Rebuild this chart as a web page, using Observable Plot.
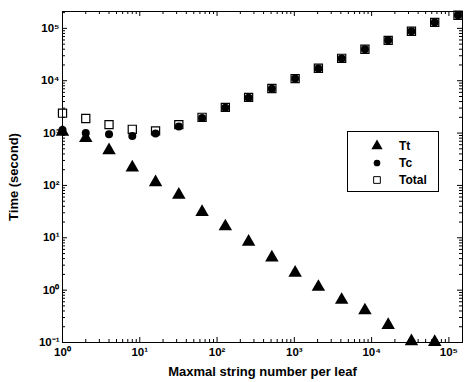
<!DOCTYPE html>
<html><head><meta charset="utf-8">
<script src="https://cdn.jsdelivr.net/npm/d3@7"></script>
<script src="https://cdn.jsdelivr.net/npm/@observablehq/plot@0.6"></script>
<style>
body{margin:0;background:#fff}
#wrap{position:relative;width:470px;height:382px;font-family:"Liberation Sans",Arial,Helvetica,sans-serif}
#legend{position:absolute;left:347px;top:131px;width:92px;height:61px;border:1px solid #000;box-sizing:border-box;background:#fff}
</style>
</head><body><div id="wrap"></div>
<script>
// x: maximal string number per leaf
const leafSize = [1,2,4,8,16,32,64,128,256,512,1024,2048,4096,8192,16384,32768,65536,131072];
// Tt (seconds) — last point (131072) below axis range, not shown
const tt = [1050,800,470,220,115,66,31,16.5,8.4,4.2,2.15,1.15,0.65,0.41,0.215,0.105,0.102];
// Tc (seconds)
const tc = [1150,1000,950,880,980,1330,1950,3050,4750,7000,11000,17200,26700,40000,59000,88000,130000,178000];
// Total (seconds)
const total = [2400,1900,1450,1180,1100,1450,2000,3100,4800,7100,11000,17300,26800,40000,59000,88000,130000,178000];

const seriesNames = ["Tt","Tc","Total"];
const xMajor = [1,10,100,1000,10000,100000];
const yMajor = [0.1,1,10,100,1000,10000,100000];
const xMinor = [], yMinor = [];
for (let e = 0; e <= 5; e++) for (let m = 2; m <= 9; m++) { const v = m * 10 ** e; if (v <= 150000) xMinor.push(v); }
for (let e = -1; e <= 5; e++) for (let m = 2; m <= 9; m++) { const v = m * 10 ** e; if (v <= 210000) yMinor.push(v); }

const sup = {"0":"⁰","1":"¹","2":"²","3":"³","4":"⁴","5":"⁵","-":"⁻"};
const fmt = v => "10" + String(Math.round(Math.log10(v))).split("").map(c => sup[c]).join("");

const ttData = tt.map((v,i) => ({x: leafSize[i], y: v}));
const tcData = tc.map((v,i) => ({x: leafSize[i], y: v}));
const totData = total.map((v,i) => ({x: leafSize[i], y: v}));

const W = 470, H = 382, mL = 62, mR = 8, mT = 11, mB = 40;
const innerH = H - mT - mB, innerW = W - mL - mR;
const font = "'Liberation Sans', Arial, Helvetica, sans-serif";

const chart = Plot.plot({
  width: W, height: H,
  marginLeft: mL, marginRight: mR, marginTop: mT, marginBottom: mB,
  style: {fontFamily: font, background: "#fff", color: "#000"},
  x: {type: "log", domain: [1, 150000]},
  y: {type: "log", domain: [0.1, 210000]},
  marks: [
    Plot.frame({stroke: "#000", strokeWidth: 1}),
    // inward ticks, bottom & top
    Plot.ruleX(xMajor, {x: d => d, insetTop: innerH - 5, stroke: "#000"}),
    Plot.ruleX(xMajor, {x: d => d, insetBottom: innerH - 5, stroke: "#000"}),
    Plot.ruleX(xMinor, {x: d => d, insetTop: innerH - 3, stroke: "#000"}),
    Plot.ruleX(xMinor, {x: d => d, insetBottom: innerH - 3, stroke: "#000"}),
    // inward ticks, left & right
    Plot.ruleY(yMajor, {y: d => d, insetRight: innerW - 5, stroke: "#000"}),
    Plot.ruleY(yMajor, {y: d => d, insetLeft: innerW - 5, stroke: "#000"}),
    Plot.ruleY(yMinor, {y: d => d, insetRight: innerW - 3, stroke: "#000"}),
    Plot.ruleY(yMinor, {y: d => d, insetLeft: innerW - 3, stroke: "#000"}),
    Plot.axisX({ticks: xMajor, tickSize: 0, tickPadding: 5, tickFormat: fmt, fontSize: 11.5, fontWeight: "bold", label: null}),
    Plot.axisY({ticks: yMajor, tickSize: 0, tickPadding: 3, tickFormat: fmt, fontSize: 11.5, fontWeight: "bold", label: null}),
    Plot.axisX({ticks: [], tickSize: 0, label: "Maxmal string number per leaf", labelAnchor: "center", labelOffset: 33, labelArrow: "none", fontSize: 13, fontWeight: "bold"}),
    Plot.axisY({ticks: [], tickSize: 0, label: "Time (second)", labelAnchor: "center", labelOffset: 54, labelArrow: "none", fontSize: 13, fontWeight: "bold"}),
    Plot.dot(totData, {x: "x", y: "y", symbol: "square", r: 4.6, stroke: "#000", strokeWidth: 1.2, fill: "none"}),
    Plot.dot(tcData, {x: "x", y: "y", symbol: "circle", r: 4, fill: "#000", stroke: "none"}),
    Plot.dot(ttData, {x: "x", y: "y", symbol: "triangle", r: 5, fill: "#000", stroke: "none"})
  ]
});
document.getElementById("wrap").appendChild(chart);

// legend (HTML overlay inside the plot frame)
const leg = d3.select("#wrap").append("div").attr("id", "legend");
const lsvg = leg.append("svg").attr("width", 90).attr("height", 59);
const sym = [d3.symbolTriangle, d3.symbolCircle, d3.symbolSquare];
seriesNames.forEach((name, i) => {
  const g = lsvg.append("g").attr("transform", `translate(29,${14 + i * 17})`);
  g.append("path").attr("d", d3.symbol(sym[i], i === 2 ? 45 : i === 0 ? 55 : 35)())
    .attr("fill", i === 2 ? "none" : "#000").attr("stroke", i === 2 ? "#000" : "none").attr("stroke-width", 1);
  lsvg.append("text").attr("x", 51).attr("y", 14 + i * 17).attr("dy", "0.35em")
    .attr("font-family", font).attr("font-size", 12).attr("font-weight", "bold").text(name);
});
</script>
</body></html>
